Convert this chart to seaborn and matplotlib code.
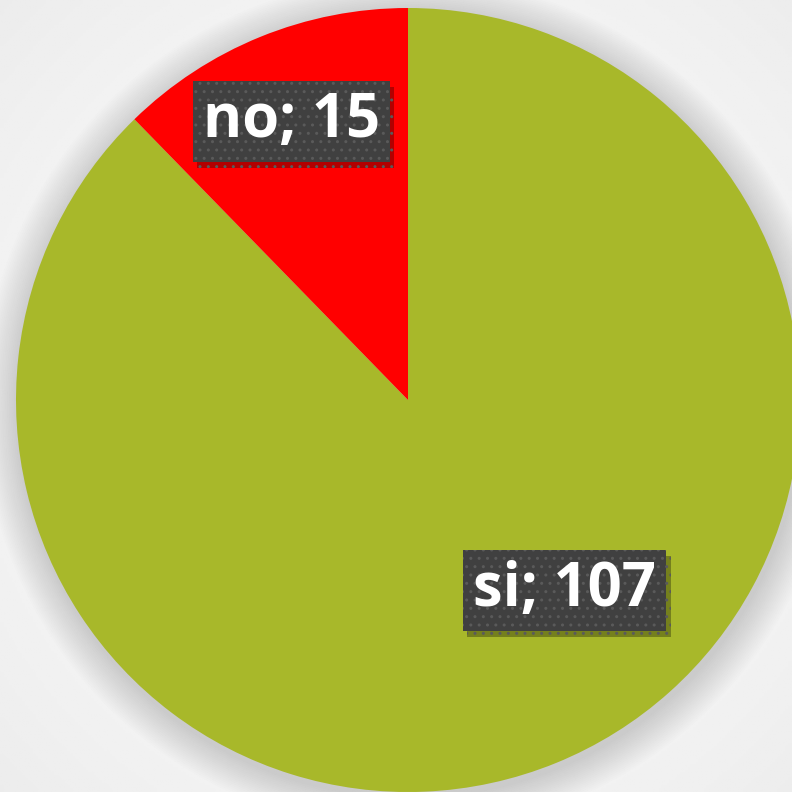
import numpy as np
import matplotlib
matplotlib.use("Agg")
import matplotlib.pyplot as plt
import matplotlib.patheffects as pe
from matplotlib.patches import Circle
import seaborn as sns

categories = ["si", "no"]
values = [107, 15]
colors = ["#A8B82A", "#FF0000"]

sns.set_theme(style="white")
plt.rcParams['font.family'] = ['Open Sans', 'DejaVu Sans']

W = 792
fig = plt.figure(figsize=(W / 100, W / 100), dpi=100)
ax = fig.add_axes([0, 0, 1, 1])

R_px = 392.0
cx_px, cy_px = 408.0, 400.0
x0 = -cx_px / R_px
x1 = (W - cx_px) / R_px
y0 = -(W - cy_px) / R_px
y1 = cy_px / R_px

# radial background gradient
gx = np.linspace(x0, x1, 300)
gy = np.linspace(y0, y1, 300)
GX, GY = np.meshgrid(gx, gy)
rr = np.sqrt(GX ** 2 + GY ** 2)
bg = 0.975 - 0.05 * np.clip(rr / 1.45, 0, 1) ** 2
ax.imshow(bg, extent=[x0, x1, y0, y1], origin="lower", cmap="gray",
          vmin=0, vmax=1, zorder=0, aspect="auto")

# soft shadow behind pie
for i in range(20):
    r = 1.0 + 0.0045 * (20 - i)
    ax.add_patch(Circle((0.004, -0.012), r, color="black", alpha=0.008,
                        lw=0, zorder=1))

wedges, _ = ax.pie(values, colors=colors, startangle=90, counterclock=False,
                   radius=1.0, center=(0, 0),
                   wedgeprops=dict(linewidth=0, zorder=2))
for w in wedges:
    w.set_zorder(2)

# label placement (distance/angle shifts relative to wedge mid-angle)
label_r = [0.63, 0.77]
label_shift = [17.3, 0.6]
for w, cat, val, lr, sh in zip(wedges, categories, values, label_r, label_shift):
    ang = np.deg2rad((w.theta1 + w.theta2) / 2 + sh)
    t = ax.text(lr * np.cos(ang), lr * np.sin(ang), f"{cat}; {val}",
                ha="center", va="center", color="white", fontsize=43,
                fontweight="bold", zorder=5,
                bbox=dict(boxstyle="square,pad=0.17", facecolor="#404040",
                          edgecolor="#5A5A5A", hatch="..", linewidth=0))
    t.get_bbox_patch().set_path_effects(
        [pe.SimplePatchShadow(offset=(3, -4), alpha=0.3, shadow_rgbFace="black"),
         pe.Normal()])

ax.set_xlim(x0, x1)
ax.set_ylim(y0, y1)
ax.set_aspect("auto")
ax.axis("off")

fig.savefig("out.png", dpi=100)
